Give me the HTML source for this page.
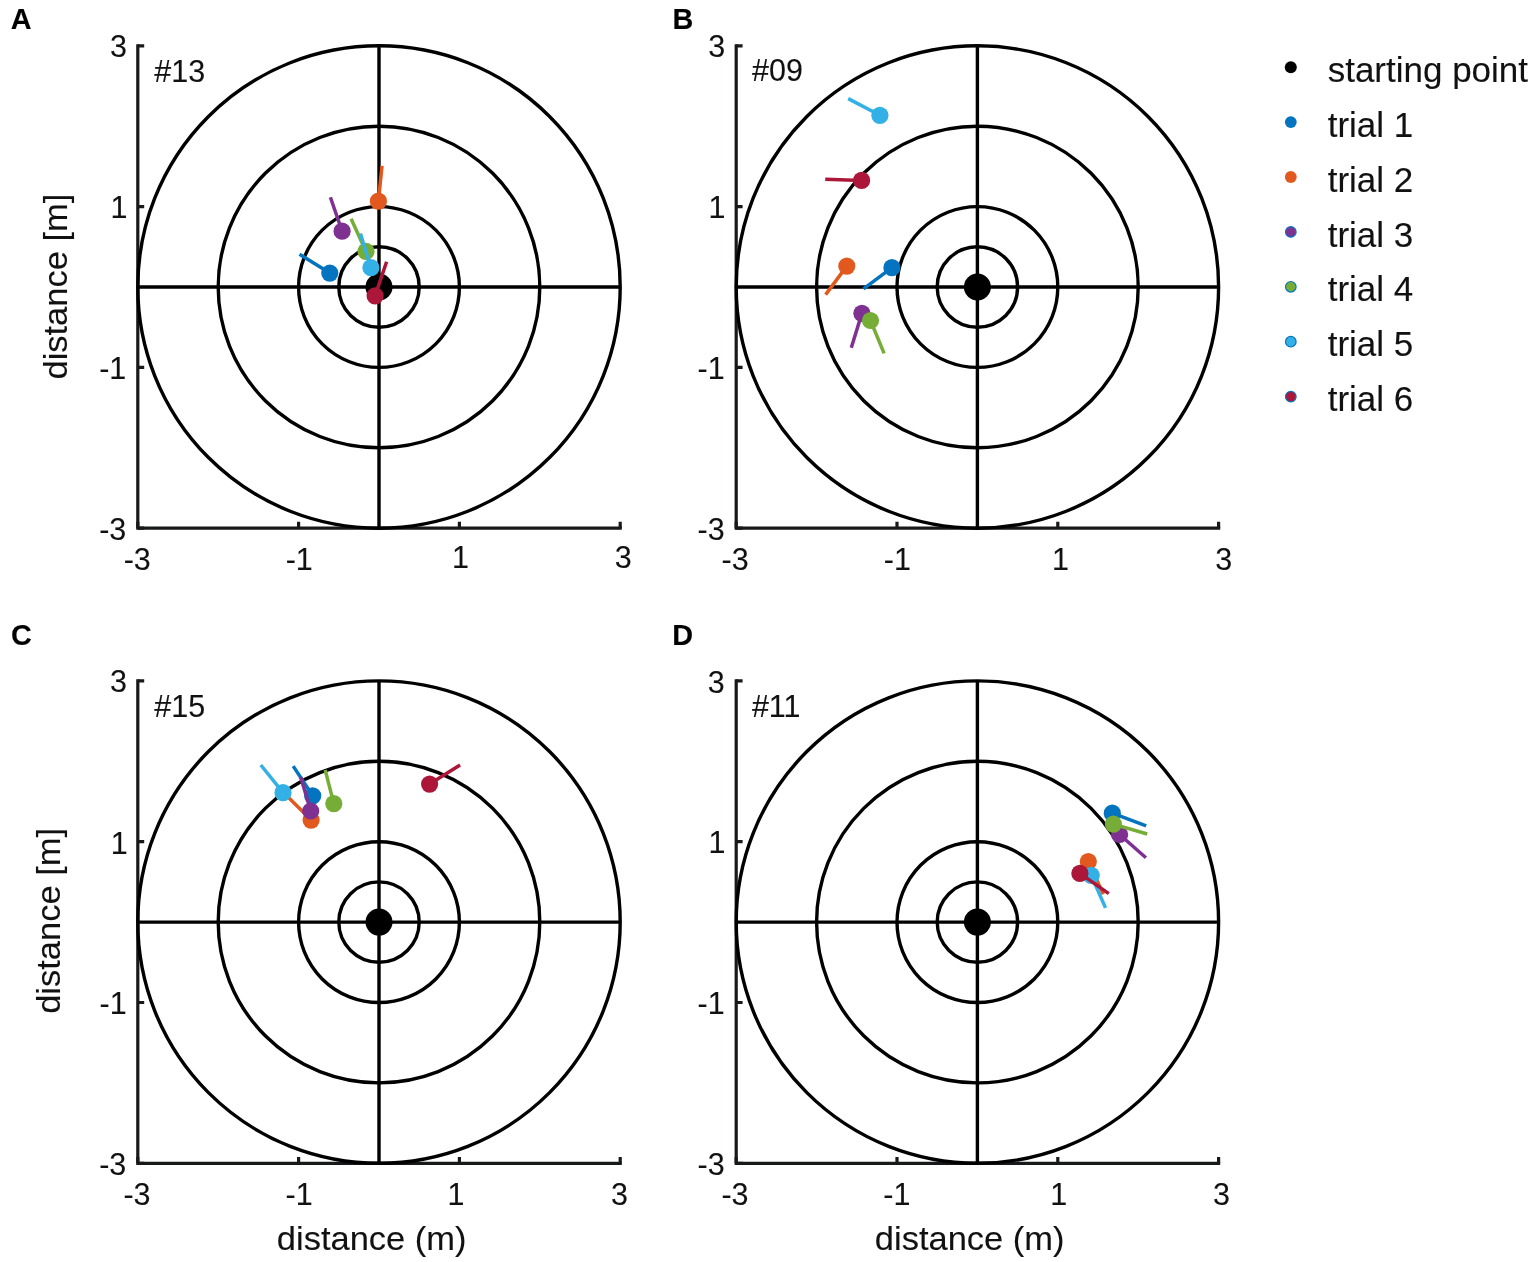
<!DOCTYPE html>
<html lang="en"><head><meta charset="utf-8"><title>Walking trajectories: end points per trial</title>
<style>
html,body{margin:0;padding:0;background:#fff;}
body{width:1535px;height:1262px;overflow:hidden;}
svg{display:block;}
text{font-family:"Liberation Sans",sans-serif;stroke:#111111;stroke-width:0.1px;stroke-linejoin:round;}
.tk{font-size:30.5px;fill:#111111;}
.lb{font-size:34.5px;fill:#111111;}
.lg{font-size:35px;fill:#111111;}
.pn{font-size:28.8px;font-weight:bold;fill:#000;stroke:#000;stroke-width:0.1px;}
.ring{fill:none;stroke:#000;stroke-width:3.4;}
.ax{fill:none;stroke:#17191b;stroke-width:3.2;stroke-linecap:butt;}
.tl{fill:none;stroke-width:3.5;stroke-linecap:butt;}
</style></head><body>
<svg width="1535" height="1262" viewBox="0 0 1535 1262">
<rect width="1535" height="1262" fill="#fff"/>
<g id="panel-A">
<text class="pn" transform="translate(10.7 29.1) scale(1 1.04)">A</text>
<path class="ax" d="M137.8 44.2V528.2H621.8" stroke-linejoin="miter"/>
<path class="ax" d="M137.8 528.2h6.4M137.8 528.2v-6.4M137.8 367.4h6.4M298.6 528.2v-6.4M137.8 206.6h6.4M459.4 528.2v-6.4M137.8 45.8h6.4M620.2 528.2v-6.4"/>
<text class="tk" text-anchor="end" transform="translate(126.3 539.5) scale(1 1.045)">-3</text>
<text class="tk" text-anchor="middle" transform="translate(137.2 569.8) scale(1 1.045)">-3</text>
<text class="tk" text-anchor="end" transform="translate(126.3 378.7) scale(1 1.045)">-1</text>
<text class="tk" text-anchor="middle" transform="translate(299.2 569.8) scale(1 1.045)">-1</text>
<text class="tk" text-anchor="end" transform="translate(127.4 217.9) scale(1 1.045)">1</text>
<text class="tk" text-anchor="middle" transform="translate(460.6 567.6) scale(1 1.045)">1</text>
<text class="tk" text-anchor="end" transform="translate(126.9 56.9) scale(1 1.045)">3</text>
<text class="tk" text-anchor="middle" transform="translate(623.3 567.6) scale(1 1.045)">3</text>
<text class="lb" text-anchor="middle" transform="translate(66.9 286.6) rotate(-90) scale(1 0.97)">distance [m]</text>
<circle class="ring" cx="379" cy="287" r="40.2"/>
<circle class="ring" cx="379" cy="287" r="80.4"/>
<circle class="ring" cx="379" cy="287" r="160.8"/>
<circle class="ring" cx="379" cy="287" r="241.2"/>
<path class="ring" d="M137.8 287H620.2M379 45.8V528.2"/>
<text class="tk" transform="translate(154.3 81.5) scale(1 1.045)">#13</text>
<circle cx="379" cy="287" r="13.5" fill="#000"/>
<line class="tl" stroke="#0574C0" x1="329.8" y1="273.1" x2="299.5" y2="254.2"/><circle cx="329.8" cy="273.1" r="8.6" fill="#0574C0"/>
<line class="tl" stroke="#E1591E" x1="378.4" y1="201.2" x2="382" y2="165.9"/><circle cx="378.4" cy="201.2" r="8.6" fill="#E1591E"/>
<line class="tl" stroke="#7F3192" x1="342.1" y1="231.2" x2="330.4" y2="197.2"/><circle cx="342.1" cy="231.2" r="8.6" fill="#7F3192"/>
<line class="tl" stroke="#76AD36" x1="366" y1="251.4" x2="351.1" y2="218.7"/><circle cx="366" cy="251.4" r="8.6" fill="#76AD36"/>
<line class="tl" stroke="#33B0E5" x1="370.9" y1="267.7" x2="360.4" y2="233.4"/><circle cx="370.9" cy="267.7" r="8.6" fill="#33B0E5"/>
<line class="tl" stroke="#AC1739" x1="375.1" y1="295.9" x2="386.6" y2="261.7"/><circle cx="375.1" cy="295.9" r="8.6" fill="#AC1739"/>
</g>
<g id="panel-B">
<text class="pn" transform="translate(672.5 29.1) scale(1 1.04)">B</text>
<path class="ax" d="M736.2 44.2V528.2H1220.2" stroke-linejoin="miter"/>
<path class="ax" d="M736.2 528.2h6.4M736.2 528.2v-6.4M736.2 367.4h6.4M897 528.2v-6.4M736.2 206.6h6.4M1057.8 528.2v-6.4M736.2 45.8h6.4M1218.6 528.2v-6.4"/>
<text class="tk" text-anchor="end" transform="translate(724.7 539.5) scale(1 1.045)">-3</text>
<text class="tk" text-anchor="middle" transform="translate(735.1 569.8) scale(1 1.045)">-3</text>
<text class="tk" text-anchor="end" transform="translate(724.7 378.7) scale(1 1.045)">-1</text>
<text class="tk" text-anchor="middle" transform="translate(897.3 569.8) scale(1 1.045)">-1</text>
<text class="tk" text-anchor="end" transform="translate(725.5 217.9) scale(1 1.045)">1</text>
<text class="tk" text-anchor="middle" transform="translate(1060.6 569.8) scale(1 1.045)">1</text>
<text class="tk" text-anchor="end" transform="translate(725.2 57.1) scale(1 1.045)">3</text>
<text class="tk" text-anchor="middle" transform="translate(1223.7 569.8) scale(1 1.045)">3</text>
<circle class="ring" cx="977.4" cy="287" r="40.2"/>
<circle class="ring" cx="977.4" cy="287" r="80.4"/>
<circle class="ring" cx="977.4" cy="287" r="160.8"/>
<circle class="ring" cx="977.4" cy="287" r="241.2"/>
<path class="ring" d="M736.2 287H1218.6M977.4 45.8V528.2"/>
<text class="tk" transform="translate(752 81.3) scale(1 1.045)">#09</text>
<circle cx="977.4" cy="287" r="13.5" fill="#000"/>
<line class="tl" stroke="#0574C0" x1="891.9" y1="267.7" x2="863.5" y2="288.8"/><circle cx="891.9" cy="267.7" r="8.6" fill="#0574C0"/>
<line class="tl" stroke="#E1591E" x1="846.8" y1="266.1" x2="825.6" y2="294.6"/><circle cx="846.8" cy="266.1" r="8.6" fill="#E1591E"/>
<line class="tl" stroke="#7F3192" x1="861.9" y1="313.3" x2="851.3" y2="347.7"/><circle cx="861.9" cy="313.3" r="8.6" fill="#7F3192"/>
<line class="tl" stroke="#76AD36" x1="870.5" y1="320.5" x2="884.1" y2="353.4"/><circle cx="870.5" cy="320.5" r="8.6" fill="#76AD36"/>
<line class="tl" stroke="#33B0E5" x1="879.9" y1="115.3" x2="848.2" y2="98.6"/><circle cx="879.9" cy="115.3" r="8.6" fill="#33B0E5"/>
<line class="tl" stroke="#AC1739" x1="861.6" y1="180.4" x2="825.2" y2="179.2"/><circle cx="861.6" cy="180.4" r="8.6" fill="#AC1739"/>
</g>
<g id="panel-C">
<text class="pn" transform="translate(10.9 644.9) scale(1 1.04)">C</text>
<path class="ax" d="M137.8 679.3V1163.3H621.8" stroke-linejoin="miter"/>
<path class="ax" d="M137.8 1163.3h6.4M137.8 1163.3v-6.4M137.8 1002.5h6.4M298.6 1163.3v-6.4M137.8 841.7h6.4M459.4 1163.3v-6.4M137.8 680.9h6.4M620.2 1163.3v-6.4"/>
<text class="tk" text-anchor="end" transform="translate(126.3 1174.6) scale(1 1.045)">-3</text>
<text class="tk" text-anchor="middle" transform="translate(137 1204.9) scale(1 1.045)">-3</text>
<text class="tk" text-anchor="end" transform="translate(126.6 1014.4) scale(1 1.045)">-1</text>
<text class="tk" text-anchor="middle" transform="translate(299.1 1204.9) scale(1 1.045)">-1</text>
<text class="tk" text-anchor="end" transform="translate(127.8 853.6) scale(1 1.045)">1</text>
<text class="tk" text-anchor="middle" transform="translate(456 1204.9) scale(1 1.045)">1</text>
<text class="tk" text-anchor="end" transform="translate(127 691.9) scale(1 1.045)">3</text>
<text class="tk" text-anchor="middle" transform="translate(619.5 1204.9) scale(1 1.045)">3</text>
<text class="lb" text-anchor="middle" transform="translate(60 920.9) rotate(-90) scale(1 0.97)">distance [m]</text>
<text class="lb" text-anchor="middle" transform="translate(371.7 1250) scale(1 0.95)">distance (m)</text>
<circle class="ring" cx="379" cy="922.1" r="40.2"/>
<circle class="ring" cx="379" cy="922.1" r="80.4"/>
<circle class="ring" cx="379" cy="922.1" r="160.8"/>
<circle class="ring" cx="379" cy="922.1" r="241.2"/>
<path class="ring" d="M137.8 922.1H620.2M379 680.9V1163.3"/>
<text class="tk" transform="translate(154.3 716.5) scale(1 1.045)">#15</text>
<circle cx="379" cy="922.1" r="13.5" fill="#000"/>
<line class="tl" stroke="#0574C0" x1="312.7" y1="795.8" x2="293.2" y2="766.1"/><circle cx="312.7" cy="795.8" r="8.6" fill="#0574C0"/>
<line class="tl" stroke="#E1591E" x1="311.1" y1="820.1" x2="286" y2="795"/><circle cx="311.1" cy="820.1" r="8.6" fill="#E1591E"/>
<line class="tl" stroke="#7F3192" x1="310.7" y1="811" x2="300.7" y2="777.1"/><circle cx="310.7" cy="811" r="8.6" fill="#7F3192"/>
<line class="tl" stroke="#76AD36" x1="333.8" y1="803.6" x2="325.2" y2="770"/><circle cx="333.8" cy="803.6" r="8.6" fill="#76AD36"/>
<line class="tl" stroke="#33B0E5" x1="283" y1="792.7" x2="260.8" y2="765"/><circle cx="283" cy="792.7" r="8.6" fill="#33B0E5"/>
<line class="tl" stroke="#AC1739" x1="429.6" y1="784.1" x2="460.1" y2="765"/><circle cx="429.6" cy="784.1" r="8.6" fill="#AC1739"/>
</g>
<g id="panel-D">
<text class="pn" transform="translate(672.2 644.7) scale(1 1.04)">D</text>
<path class="ax" d="M736.2 679.3V1163.3H1220.2" stroke-linejoin="miter"/>
<path class="ax" d="M736.2 1163.3h6.4M736.2 1163.3v-6.4M736.2 1002.5h6.4M897 1163.3v-6.4M736.2 841.7h6.4M1057.8 1163.3v-6.4M736.2 680.9h6.4M1218.6 1163.3v-6.4"/>
<text class="tk" text-anchor="end" transform="translate(724.7 1174.6) scale(1 1.045)">-3</text>
<text class="tk" text-anchor="middle" transform="translate(735 1204.9) scale(1 1.045)">-3</text>
<text class="tk" text-anchor="end" transform="translate(724.7 1013.8) scale(1 1.045)">-1</text>
<text class="tk" text-anchor="middle" transform="translate(896.8 1204.9) scale(1 1.045)">-1</text>
<text class="tk" text-anchor="end" transform="translate(725.5 853.3) scale(1 1.045)">1</text>
<text class="tk" text-anchor="middle" transform="translate(1058.7 1204.9) scale(1 1.045)">1</text>
<text class="tk" text-anchor="end" transform="translate(724.7 692.8) scale(1 1.045)">3</text>
<text class="tk" text-anchor="middle" transform="translate(1221.6 1204.9) scale(1 1.045)">3</text>
<text class="lb" text-anchor="middle" transform="translate(969.7 1250) scale(1 0.95)">distance (m)</text>
<circle class="ring" cx="977.4" cy="922.1" r="40.2"/>
<circle class="ring" cx="977.4" cy="922.1" r="80.4"/>
<circle class="ring" cx="977.4" cy="922.1" r="160.8"/>
<circle class="ring" cx="977.4" cy="922.1" r="241.2"/>
<path class="ring" d="M736.2 922.1H1218.6M977.4 680.9V1163.3"/>
<text class="tk" transform="translate(751.9 716.6) scale(1 1.045)">#11</text>
<circle cx="977.4" cy="922.1" r="13.5" fill="#000"/>
<line class="tl" stroke="#0574C0" x1="1112.3" y1="813.2" x2="1146.2" y2="825.8"/><circle cx="1112.3" cy="813.2" r="8.6" fill="#0574C0"/>
<line class="tl" stroke="#E1591E" x1="1088.3" y1="861.6" x2="1103.3" y2="894.2"/><circle cx="1088.3" cy="861.6" r="8.6" fill="#E1591E"/>
<line class="tl" stroke="#7F3192" x1="1119.6" y1="834.5" x2="1145.9" y2="857.7"/><circle cx="1119.6" cy="834.5" r="8.6" fill="#7F3192"/>
<line class="tl" stroke="#76AD36" x1="1113.4" y1="824.1" x2="1147.2" y2="834"/><circle cx="1113.4" cy="824.1" r="8.6" fill="#76AD36"/>
<line class="tl" stroke="#33B0E5" x1="1091.2" y1="875.3" x2="1105.5" y2="907.9"/><circle cx="1091.2" cy="875.3" r="8.6" fill="#33B0E5"/>
<line class="tl" stroke="#AC1739" x1="1079.9" y1="873.4" x2="1108.8" y2="893.6"/><circle cx="1079.9" cy="873.4" r="8.6" fill="#AC1739"/>
</g>
<g id="legend">
<circle cx="1290.8" cy="67.2" r="6" fill="#000"/>
<text class="lg" transform="translate(1327.7 81.8) scale(1 0.985)">starting point</text>
<circle cx="1290.8" cy="122.1" r="5.9" fill="#0574C0"/>
<text class="lg" transform="translate(1327.7 136.7) scale(1 0.985)">trial 1</text>
<circle cx="1290.8" cy="177" r="5.9" fill="#E1591E"/>
<text class="lg" transform="translate(1327.7 191.6) scale(1 0.985)">trial 2</text>
<circle cx="1290.8" cy="231.9" r="5.3" fill="#7F3192" stroke="#0574C0" stroke-width="1.2"/>
<text class="lg" transform="translate(1327.7 246.5) scale(1 0.985)">trial 3</text>
<circle cx="1290.8" cy="286.8" r="5.3" fill="#76AD36" stroke="#0574C0" stroke-width="1.2"/>
<text class="lg" transform="translate(1327.7 301.4) scale(1 0.985)">trial 4</text>
<circle cx="1290.8" cy="341.7" r="5.3" fill="#33B0E5" stroke="#0574C0" stroke-width="1.2"/>
<text class="lg" transform="translate(1327.7 356.3) scale(1 0.985)">trial 5</text>
<circle cx="1290.8" cy="396.6" r="5.3" fill="#AC1739" stroke="#0574C0" stroke-width="1.2"/>
<text class="lg" transform="translate(1327.7 411.2) scale(1 0.985)">trial 6</text>
</g>
</svg></body></html>
